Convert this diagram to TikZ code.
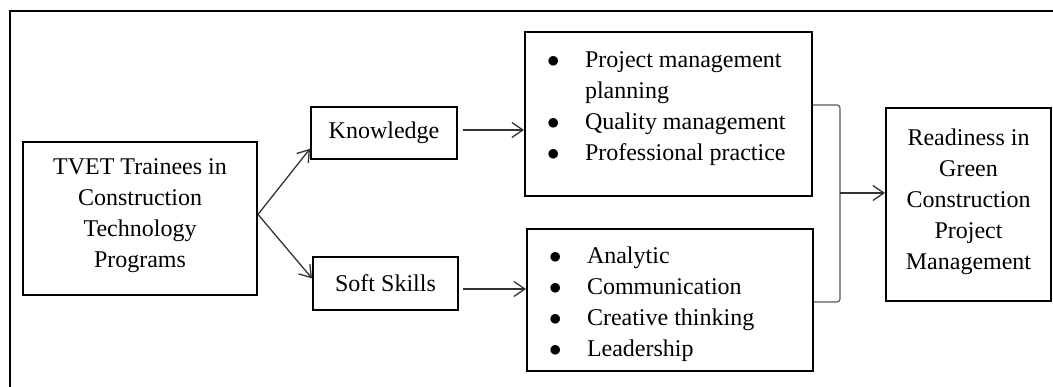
\documentclass[tikz,border=0pt]{standalone}
\usepackage{fontspec}
\setmainfont{Liberation Serif}
\usetikzlibrary{arrows.meta,
                positioning}
\tikzset{block/.style=
   {rectangle,
    draw,
    line width=2pt,
    align=center,
    inner sep=0pt,
    font=\fontsize{24}{31}\selectfont}}
\tikzset{itemlist/.style=
   {rectangle,
    draw,
    line width=2pt,
    inner sep=0pt,
    font=\fontsize{24}{31}\selectfont}}
\tikzset{arrow/.style = {draw, line width=1.3pt, black!80, -{Straight Barb[length=11pt,width=15pt]}}}
\tikzset{bracket/.style = {draw, line width=1.2pt, black!65, rounded corners=3pt}}
\newcommand{\bitem}[1]{\makebox[60pt][l]{\hspace*{22pt}$\bullet$}#1}
\newcommand{\bcont}[1]{\hspace*{60pt}#1}

\begin{document}
\begin{tikzpicture}[x=1pt, y=-1pt]

    \useasboundingbox (0,0) rectangle (1053,387);
    \clip (0,0) rectangle (1053,387);
    \draw [line width=2.5pt] (10,11) rectangle (1080,420);

    \node [block,
           minimum width=234pt,
           minimum height=153pt] (trainees) at (140,218.5)
          {TVET Trainees in\\Construction\\Technology\\Programs\rule[-10pt]{0pt}{0pt}};

    \node [block,
           minimum width=146pt,
           minimum height=52pt] (knowledge) at (384,133) {Knowledge};

    \node [block,
           minimum width=145pt,
           minimum height=53pt,
           below of = knowledge,
           node distance = 150.5pt,
           xshift=1.5pt] (softskills) {Soft Skills};

    \node [itemlist] (knowlist) at (668.5,114)
          {\begin{minipage}[c][164pt][t]{287pt}\vspace*{20pt}%
           \bitem{Project management}\\
           \bcont{planning}\\
           \bitem{Quality management}\\
           \bitem{Professional practice}
           \end{minipage}};

    \node [itemlist,
           below of = knowlist,
           node distance = 186pt,
           xshift=1.5pt] (skilllist)
          {\begin{minipage}[c][142pt][t]{286pt}\vspace*{18pt}%
           \bitem{Analytic}\\
           \bitem{Communication}\\
           \bitem{Creative thinking}\\
           \bitem{Leadership}
           \end{minipage}};

    \node [block,
           minimum width=165pt,
           minimum height=193pt] (readiness) at (968.5,204.5)
          {Readiness in\\Green\\Construction\\Project\\Management\rule[-10pt]{0pt}{0pt}};

    \path [arrow] (trainees.2) -- (knowledge.192);
    \path [arrow] (trainees.2) -- (softskills.176);
    \path [arrow, shorten <=5pt] ([yshift=3pt]knowledge.east) -- ([yshift=3pt]knowledge.east -| knowlist.west);
    \path [arrow, shorten <=4pt] ([yshift=-5.5pt]softskills.east) -- ([yshift=-5.5pt]softskills.east -| skilllist.west);

    \coordinate (join) at (840,193);
    \path [bracket] ([yshift=9pt]knowlist.east) -| (join) |- ([yshift=-2pt]skilllist.east);
    \path [arrow] (join) -- (join -| readiness.west);

\end{tikzpicture}
\end{document}
